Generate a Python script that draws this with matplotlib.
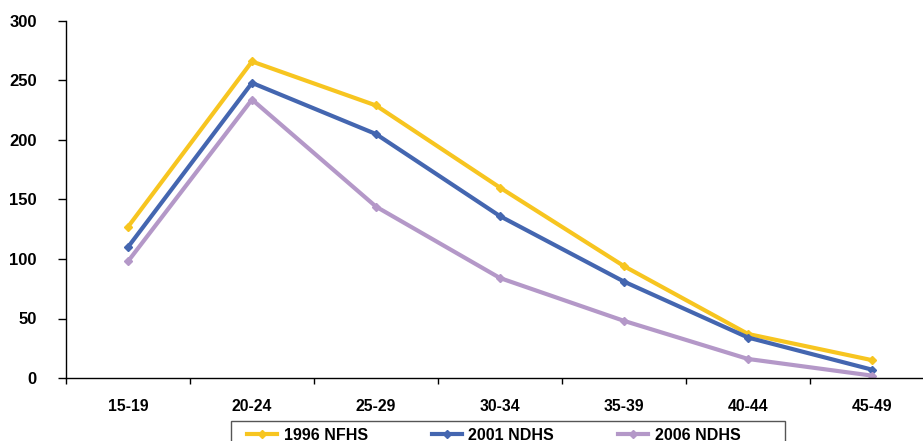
import matplotlib
matplotlib.use("Agg")
import matplotlib.pyplot as plt
from matplotlib.patches import Rectangle

categories = ["15-19", "20-24", "25-29", "30-34", "35-39", "40-44", "45-49"]
nfhs_1996 = [127, 266, 229, 160, 94, 37, 15]
ndhs_2001 = [110, 248, 205, 136, 81, 34, 7]
ndhs_2006 = [98, 234, 144, 84, 48, 16, 2]
series_labels = ["1996 NFHS", "2001 NDHS", "2006 NDHS"]
colors = ["#F7C520", "#4466B0", "#B498C8"]
yticks = [0, 50, 100, 150, 200, 250, 300]

plt.rcParams['font.family'] = ['Liberation Sans', 'DejaVu Sans']

W, H = 923, 441
fig = plt.figure(figsize=(W/100, H/100), dpi=100)
ax = fig.add_axes([66/W, 1-378/H, (934-66)/W, (378-21)/H])

x = list(range(len(categories)))
handles = []
for vals, lab, c in zip([nfhs_1996, ndhs_2001, ndhs_2006], series_labels, colors):
    h, = ax.plot(x, vals, color=c, lw=3.0, marker='D', ms=4, mec=c, mfc=c, label=lab)
    handles.append(h)

ax.set_xlim(-0.5, len(categories) - 0.5)
ax.set_ylim(0, 300)
ax.set_yticks(yticks)
ax.set_yticklabels([str(v) for v in yticks], fontsize=12, fontweight='bold')
ax.set_xticks([i - 0.5 for i in range(len(categories) + 1)])
ax.set_xticklabels([])
ax.set_xticks(x, minor=True)
ax.set_xticklabels(categories, minor=True, fontsize=11.3, fontweight='bold')
ax.tick_params(axis='x', which='minor', length=0, pad=15)
ax.tick_params(axis='x', which='major', length=4, direction='out', width=1)
ax.tick_params(axis='y', length=6, direction='out', width=1, pad=15)
for s in ['top', 'right']:
    ax.spines[s].set_visible(False)
for s in ['left', 'bottom']:
    ax.spines[s].set_linewidth(1.0)
    ax.spines[s].set_color('black')

# legend frame drawn as a rectangle (extends past the bottom edge as in the reference)
fig.patches.append(Rectangle((231/W, 1-450/H), (785-231)/W, (450-421)/H,
                             transform=fig.transFigure, fill=False,
                             edgecolor='#555555', linewidth=1.0))

leg = fig.legend(handles=handles, loc='upper left', bbox_to_anchor=(242/W, 1-423/H),
                 ncol=3, frameon=False,
                 prop={'weight': 'bold', 'size': 11.5}, handlelength=1.9,
                 columnspacing=4.0, borderpad=0.3, handletextpad=0.4,
                 borderaxespad=0)

fig.savefig("out.png", dpi=100)
